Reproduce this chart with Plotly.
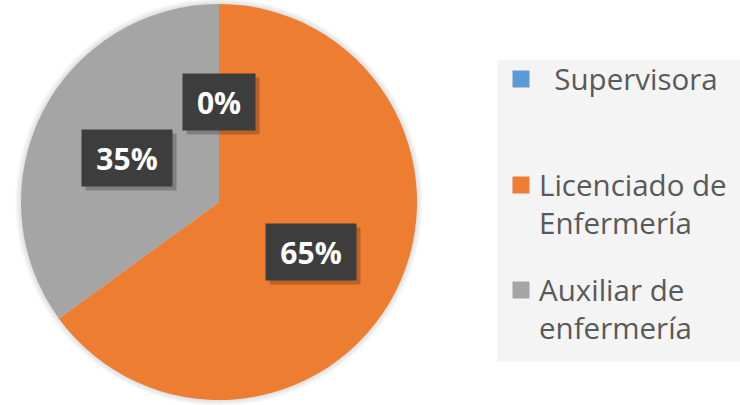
import math
import plotly.graph_objects as go

# Staff category shares
categories = ["Supervisora", "Licenciado de Enfermería", "Auxiliar de enfermería"]
legend_lines = [["\u00a0\u00a0Supervisora"],
                ["Licenciado de", "Enfermería"],
                ["Auxiliar de", "enfermería"]]
values = [0, 65, 35]
colors = ["#5b9bd5", "#ed7d31", "#a5a5a5"]

W, H = 740, 405
cx, cy, r = 219, 202, 198          # pie centre (px from top-left) and radius

total = sum(values)
pct_text = [f"{round(100 * v / total)}%" for v in values]

fig = go.Figure(go.Pie(
    labels=categories,
    values=values,
    sort=False,
    direction="clockwise",
    rotation=0,
    textinfo="none",
    hoverinfo="label+percent",
    marker=dict(colors=colors, line=dict(width=0)),
    domain=dict(x=[(cx - r) / W, (cx + r) / W],
                y=[(H - cy - r) / H, (H - cy + r) / H]),
    showlegend=False,
))

# soft halo around the pie
shapes = []
for k in range(1, 7):
    rr = r + k
    shapes.append(dict(type="circle", xref="paper", yref="paper", layer="below",
                       x0=(cx - rr) / W, x1=(cx + rr) / W,
                       y0=(H - cy - rr) / H, y1=(H - cy + rr) / H,
                       fillcolor="rgba(0,0,0,0.02)", line=dict(width=0)))
# legend panel
shapes.append(dict(type="rect", xref="paper", yref="paper", layer="below",
                   x0=497 / W, x1=1.0, y0=1 - 362 / H, y1=1 - 60 / H,
                   fillcolor="#f4f4f4", line=dict(width=0)))

annotations = []

# percentage call-outs on each slice's mid-angle
cum = 0
for v, t in zip(values, pct_text):
    theta = 2 * math.pi * (cum + v / 2) / total
    cum += v
    px = cx + 0.52 * r * math.sin(theta)
    py = (H - cy) + 0.52 * r * math.cos(theta) - 3
    box_w = 18 * len(t) + 24
    common = dict(x=px / W, y=py / H, xref="paper", yref="paper", showarrow=False,
                  xanchor="center", yanchor="middle",
                  width=box_w, height=44, borderpad=6)
    # drop shadow behind the call-out box
    annotations.append(dict(common, text="\u00a0", bgcolor="rgba(0,0,0,0.22)",
                            xshift=4, yshift=-4, font=dict(size=30)))
    annotations.append(dict(common, text=t, bgcolor="#3d3d3d",
                            font=dict(family="Open Sans", size=30, weight="bold",
                                      color="#ffffff")))

# legend: colour swatch + wrapped category name, one entry per slice
entry_top = [79, 185, 290]          # first-line centre of each entry (px from top)
SW = 17
for lines, col, yc in zip(legend_lines, colors, entry_top):
    shapes.append(dict(type="rect", xref="paper", yref="paper",
                       x0=(521 - SW / 2) / W, x1=(521 + SW / 2) / W,
                       y0=1 - (yc + SW / 2) / H, y1=1 - (yc - SW / 2) / H,
                       fillcolor=col, line=dict(width=0)))
    annotations.append(dict(x=538 / W, y=1 - (yc - 22) / H, xref="paper", yref="paper",
                            xanchor="left", yanchor="top", align="left",
                            showarrow=False, borderpad=0,
                            text="<br>".join(lines),
                            font=dict(family="Open Sans", size=29.5, color="#595959")))

fig.update_layout(
    width=W, height=H,
    margin=dict(l=0, r=0, t=0, b=0),
    paper_bgcolor="#ffffff",
    shapes=shapes,
    annotations=annotations,
)

fig.write_html("out.html")
